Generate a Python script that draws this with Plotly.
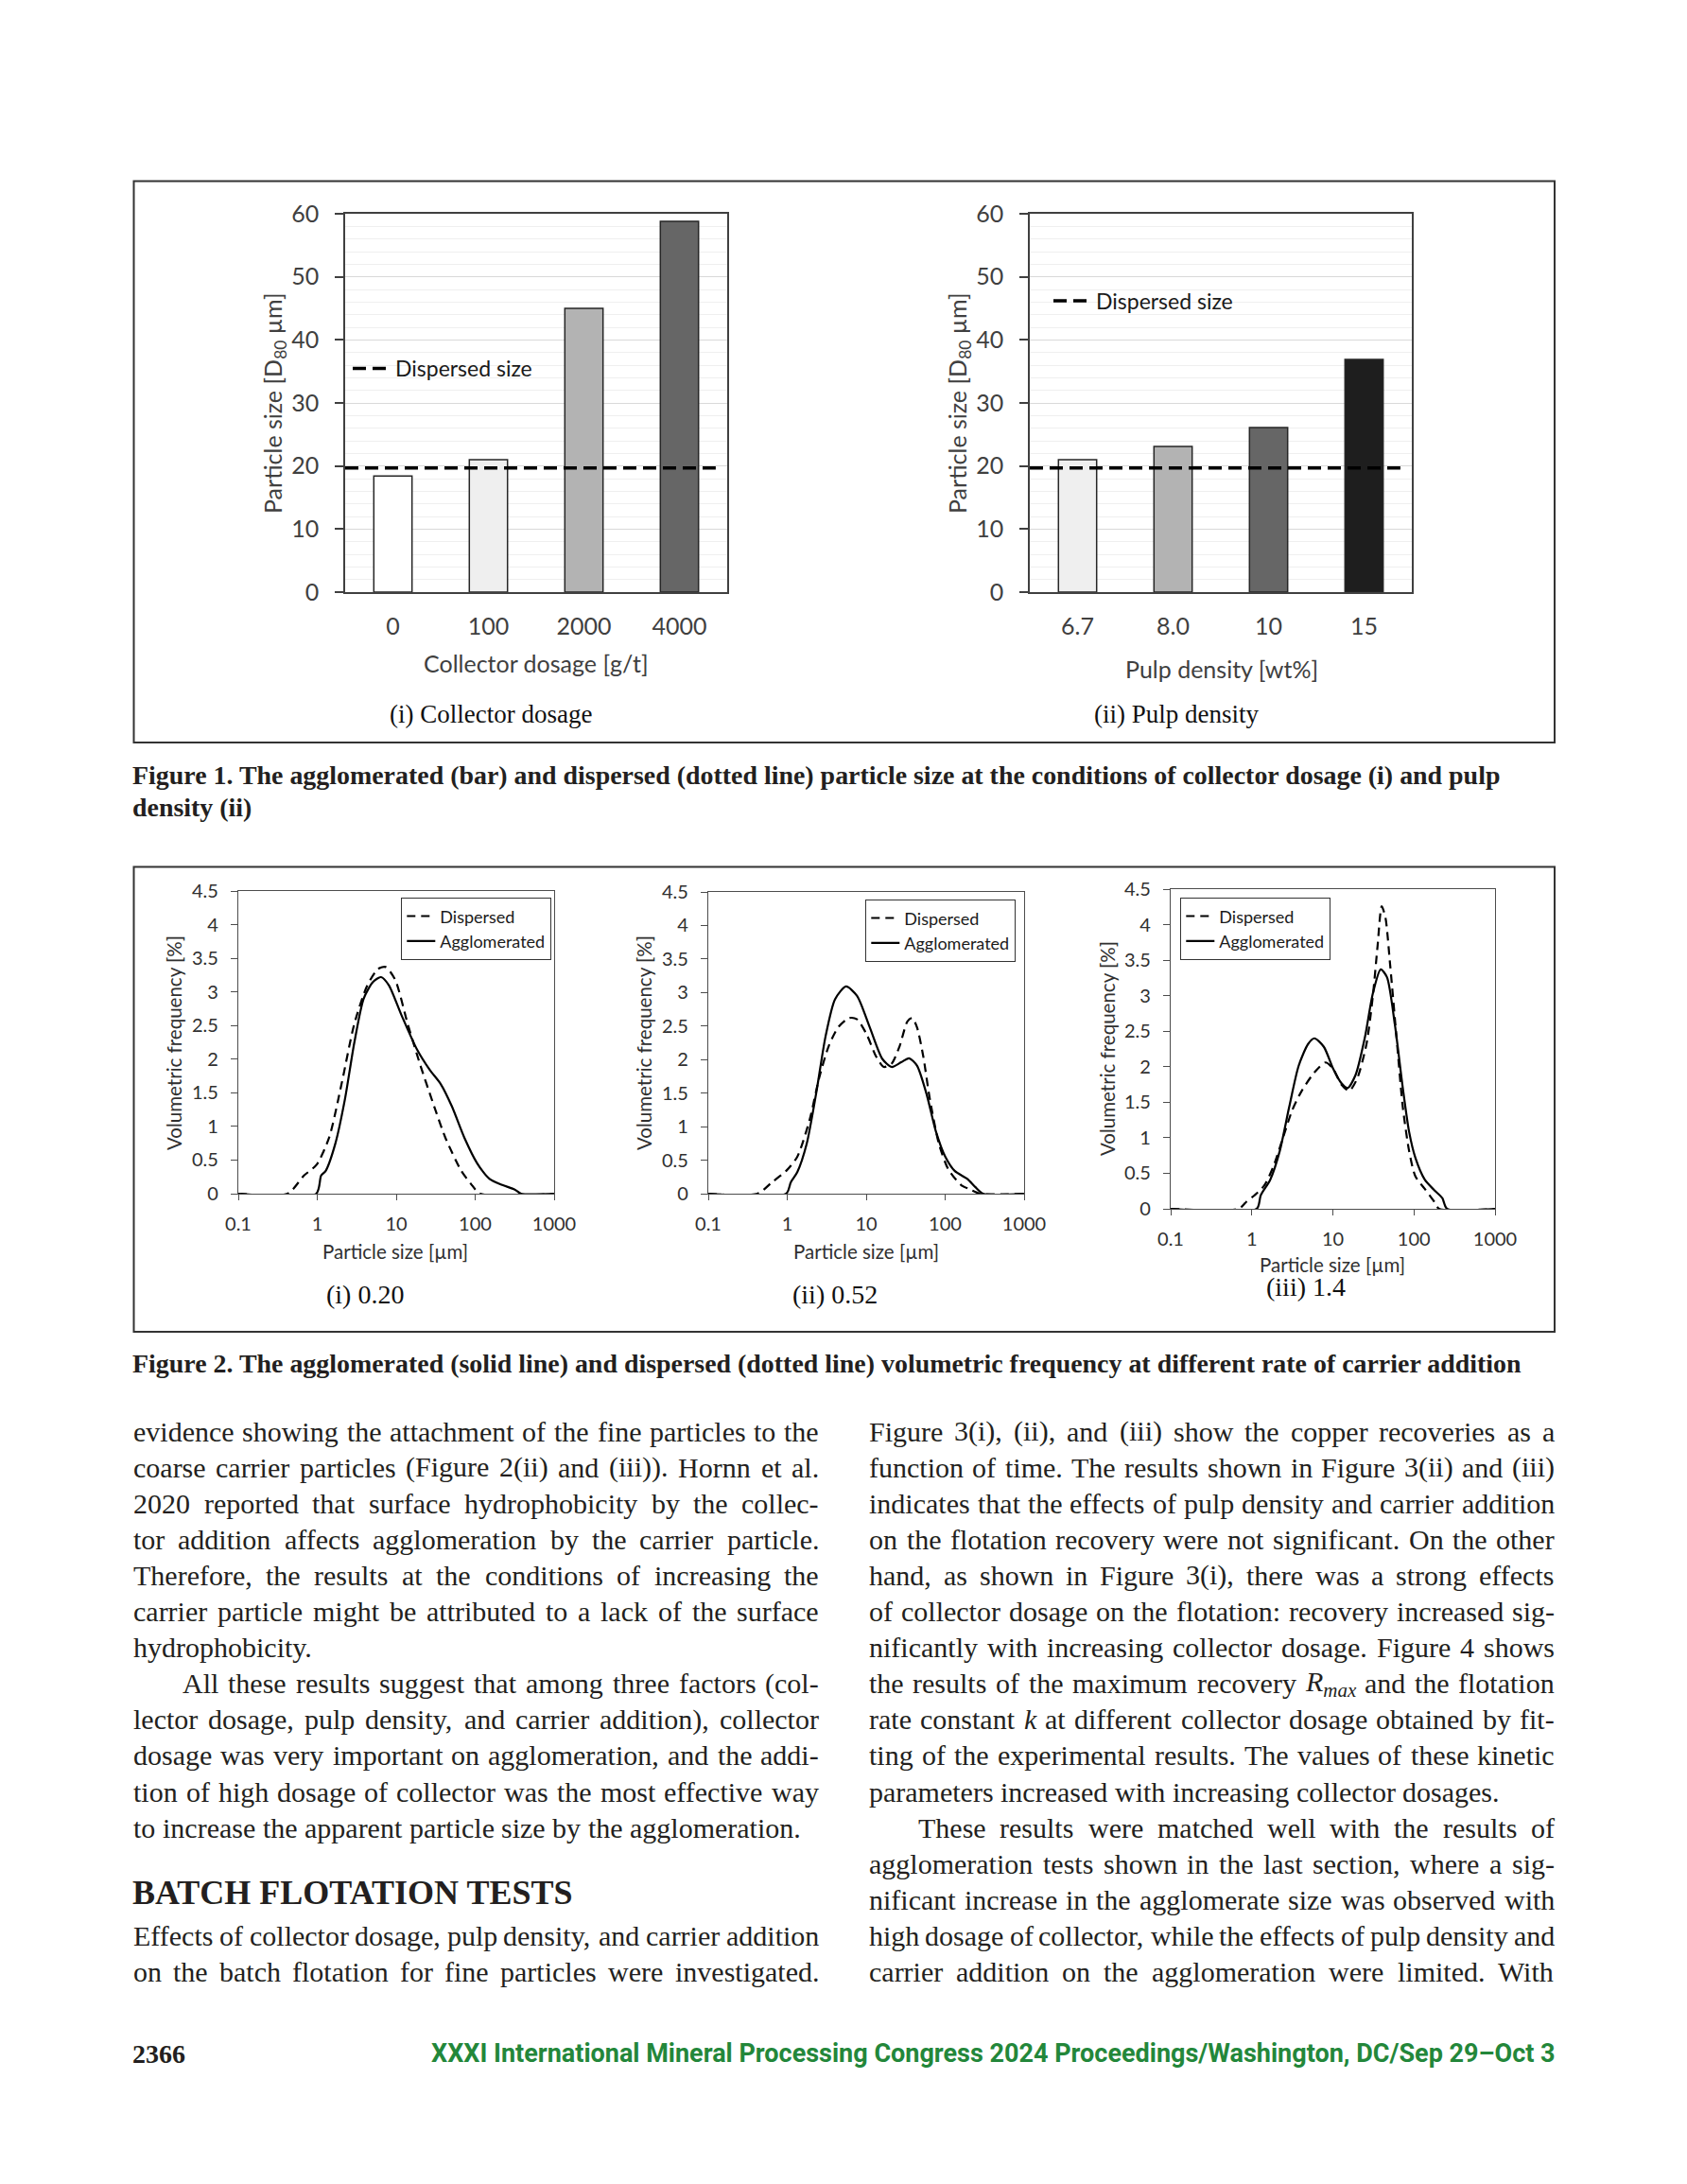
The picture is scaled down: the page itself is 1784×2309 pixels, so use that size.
import plotly.graph_objects as go

W, H = 1784, 2309
OX, OY = 8, 8  # page body margin of the html page

# ---------------- data ----------------
COLLECTOR_DOSAGE = ['0', '100', '2000', '4000']
D80_COLLECTOR = [18.4, 21.0, 45.0, 58.8]
PULP_DENSITY = ['6.7', '8.0', '10', '15']
D80_PULP = [21.0, 23.1, 26.1, 36.9]
DISPERSED_D80 = 19.7
BAR_COLORS_COLLECTOR = ['#FFFFFF', '#EFEFEF', '#B3B3B3', '#666666']
BAR_COLORS_PULP = ['#EFEFEF', '#B3B3B3', '#666666', '#1E1E1E']

PSD_TICKVALS = [0.1, 1, 10, 100, 1000]
PSD_TICKTEXT = ['0.1', '1', '10', '100', '1000']

# (i) 0.20
PSD_I_DISP_X = [0.1, 0.42, 0.68, 0.98, 1.41, 2.03, 2.94, 4.24, 5.85, 7.35, 9.7, 14.0, 20.2, 29.2, 42.0, 66.7, 87.8, 116, 1000]
PSD_I_DISP_Y = [0, 0, 0.27, 0.43, 0.83, 1.63, 2.52, 3.08, 3.34, 3.37, 3.18, 2.52, 1.91, 1.35, 0.83, 0.34, 0.15, 0, 0]
PSD_I_AGG_X = [0.1, 0.97, 1.12, 1.28, 1.69, 2.23, 2.94, 3.87, 5.1, 6.41, 8.06, 11.6, 18.4, 26.6, 36.6, 50.6, 73.1, 105, 152, 220, 318, 381, 1000]
PSD_I_AGG_Y = [0, 0, 0.27, 0.34, 0.74, 1.39, 2.24, 2.9, 3.15, 3.22, 3.1, 2.66, 2.14, 1.84, 1.63, 1.3, 0.83, 0.46, 0.22, 0.13, 0.06, 0, 0]

# (ii) 0.52
PSD_II_DISP_X = [0.1, 0.42, 0.64, 0.97, 1.34, 1.93, 2.54, 3.35, 4.41, 6.08, 7.66, 10.1, 13.3, 16.7, 21.0, 26.5, 33.3, 38.3, 44.0, 52.8, 63.4, 83.5, 110, 159, 210, 276, 1000]
PSD_II_DISP_Y = [0, 0, 0.17, 0.34, 0.55, 1.11, 1.73, 2.2, 2.48, 2.62, 2.6, 2.38, 2.05, 1.89, 1.94, 2.2, 2.57, 2.62, 2.48, 2.05, 1.44, 0.74, 0.36, 0.13, 0.06, 0, 0]
PSD_II_AGG_X = [0.1, 0.97, 1.11, 1.34, 1.76, 2.32, 3.05, 4.03, 5.56, 7.66, 11.1, 16.0, 21.0, 27.7, 34.9, 44.0, 58.0, 76.3, 100.5, 132, 191, 240, 303, 1000]
PSD_II_AGG_Y = [0, 0, 0.17, 0.32, 0.74, 1.49, 2.34, 2.9, 3.09, 2.95, 2.48, 2.01, 1.89, 1.96, 2.02, 1.91, 1.49, 0.93, 0.55, 0.34, 0.22, 0.1, 0, 0]

# (iii) 1.4
PSD_III_DISP_X = [0.1, 0.69, 0.86, 1.08, 1.41, 1.84, 2.41, 3.16, 4.13, 5.92, 8.1, 10.1, 12.7, 15.9, 19.9, 26.0, 31.1, 35.6, 40.0, 44.5, 50.9, 61.0, 72.9, 87.3, 104, 136, 178, 204, 1000]
PSD_III_DISP_Y = [0, 0, 0.1, 0.19, 0.32, 0.59, 0.99, 1.39, 1.66, 1.92, 2.06, 1.97, 1.75, 1.66, 1.83, 2.32, 2.99, 3.7, 4.26, 4.1, 3.43, 2.41, 1.43, 0.81, 0.46, 0.28, 0.1, 0, 0]
PSD_III_AGG_X = [0.1, 1.15, 1.29, 1.69, 2.21, 2.89, 3.78, 4.95, 5.92, 7.74, 10.1, 12.7, 15.2, 19.0, 24.8, 31.1, 38.9, 46.5, 58.2, 72.9, 87.3, 104, 136, 179, 224, 256, 1000]
PSD_III_AGG_Y = [0, 0, 0.19, 0.41, 0.81, 1.43, 2.01, 2.32, 2.4, 2.28, 1.97, 1.77, 1.7, 1.88, 2.41, 3.03, 3.37, 3.26, 2.59, 1.7, 1.08, 0.72, 0.41, 0.26, 0.15, 0, 0]

LEFT_LINES = [
    (0, "evidence showing the attachment of the fine particles to the", 0, True),
    (1, "coarse carrier particles (Figure 2(ii) and (iii)). Hornn et al.", 0, True),
    (2, "2020 reported that surface hydrophobicity by the collec-", 0, True),
    (3, "tor addition affects agglomeration by the carrier particle.", 0, True),
    (4, "Therefore, the results at the conditions of increasing the", 0, True),
    (5, "carrier particle might be attributed to a lack of the surface", 0, True),
    (6, "hydrophobicity.", 0, False),
    (7, "All these results suggest that among three factors (col-", 1, True),
    (8, "lector dosage, pulp density, and carrier addition), collector", 0, True),
    (9, "dosage was very important on agglomeration, and the addi-", 0, True),
    (10, "tion of high dosage of collector was the most effective way", 0, True),
    (11, "to increase the apparent particle size by the agglomeration.", 0, False),
    (14, "Effects of collector dosage, pulp density, and carrier addition", 0, True),
    (15, "on the batch flotation for fine particles were investigated.", 0, True),
]
RIGHT_LINES = [
    (0, "Figure 3(i), (ii), and (iii) show the copper recoveries as a", 0, True),
    (1, "function of time. The results shown in Figure 3(ii) and (iii)", 0, True),
    (2, "indicates that the effects of pulp density and carrier addition", 0, True),
    (3, "on the flotation recovery were not significant. On the other", 0, True),
    (4, "hand, as shown in Figure 3(i), there was a strong effects", 0, True),
    (5, "of collector dosage on the flotation: recovery increased sig-", 0, True),
    (6, "nificantly with increasing collector dosage. Figure 4 shows", 0, True),
    (7, "the results of the maximum recovery {Rmax} and the flotation", 0, True),
    (8, "rate constant {k} at different collector dosage obtained by fit-", 0, True),
    (9, "ting of the experimental results. The values of these kinetic", 0, True),
    (10, "parameters increased with increasing collector dosages.", 0, False),
    (11, "These results were matched well with the results of", 1, True),
    (12, "agglomeration tests shown in the last section, where a sig-", 0, True),
    (13, "nificant increase in the agglomerate size was observed with", 0, True),
    (14, "high dosage of collector, while the effects of pulp density and", 0, True),
    (15, "carrier addition on the agglomeration were limited. With", 0, True),
]
HEADING = "BATCH FLOTATION TESTS"
FIG1_CAPTION = ["Figure 1. The agglomerated (bar) and dispersed (dotted line) particle size at the conditions of collector dosage (i) and pulp",
                "density (ii)"]
FIG2_CAPTION = "Figure 2. The agglomerated (solid line) and dispersed (dotted line) volumetric frequency at different rate of carrier addition"
PAGE_NUMBER = "2366"
FOOTER = "XXXI International Mineral Processing Congress 2024 Proceedings/Washington, DC/Sep 29–Oct 3"

# ---------------- helpers ----------------
SANS = 'Lato, Carlito, "Open Sans", sans-serif'
SERIF = '"Liberation Serif", "Times New Roman", serif'
INK = '#231F20'


def fx(p):
    return (p - OX) / W


def fy(p):
    return 1 - (p - OY) / H


REG = dict(zip('abcdefghijklmnopqrstuvwxyz',
               [444, 500, 444, 500, 444, 333, 500, 500, 278, 278, 500, 278, 778, 500, 500, 500, 500, 333, 389, 278, 500, 500, 722, 500, 500, 444]))
REG.update(dict(zip('ABCDEFGHIJKLMNOPQRSTUVWXYZ',
                    [722, 667, 667, 722, 611, 556, 722, 722, 333, 389, 722, 611, 889, 722, 722, 556, 722, 667, 556, 611, 722, 722, 944, 722, 722, 611])))
REG.update({c: 500 for c in '0123456789'})
REG.update({' ': 250, '.': 250, ',': 250, '(': 333, ')': 333, '-': 333, ':': 278, ';': 278, '%': 833, '/': 278})

BOLD = dict(zip('abcdefghijklmnopqrstuvwxyz',
                [500, 556, 444, 556, 444, 333, 500, 556, 278, 333, 556, 278, 833, 556, 500, 556, 556, 444, 389, 333, 556, 500, 722, 500, 500, 444]))
BOLD.update(dict(zip('ABCDEFGHIJKLMNOPQRSTUVWXYZ',
                     [722, 667, 722, 722, 667, 611, 778, 778, 389, 500, 778, 667, 944, 722, 778, 611, 778, 722, 556, 667, 722, 722, 1000, 722, 722, 667])))
BOLD.update({c: 500 for c in '0123456789'})
BOLD.update({' ': 250, '.': 250, ',': 250, '(': 333, ')': 333, '-': 333, ':': 333})


def em(s, table=REG):
    return sum(table.get(c, 500) for c in s) / 1000.0


SPECIAL = {'{Rmax}': ('<i>R<sub>max</sub></i>', 0.611 + 0.7 * (0.722 + 0.5 + 0.444)),
           '{k}': ('<i>k</i>', 0.444)}

ANN = []


def add_text(text, x, y, size, family, color=INK, xanchor='center', yanchor='middle', angle=0):
    ANN.append(dict(text=text, x=fx(x), y=fy(y), xref='paper', yref='paper', showarrow=False,
                    font=dict(family=family, size=size, color=color), xanchor=xanchor, yanchor=yanchor,
                    textangle=angle, borderpad=0, borderwidth=0))


# ---------------- figure ----------------
fig = go.Figure()
layout = {}

# Figure 1 panels
BAR_PANELS = [
    (COLLECTOR_DOSAGE, D80_COLLECTOR, BAR_COLORS_COLLECTOR, (365, 769), 'x', 'y', 'legend'),
    (PULP_DENSITY, D80_PULP, BAR_COLORS_PULP, (1089, 1493), 'x2', 'y2', 'legend2'),
]
for cats, vals, cols, (xl, xr), xa, ya, lg in BAR_PANELS:
    n = len(cats)
    fig.add_trace(go.Bar(x=list(range(n)), y=vals, width=0.4,
                         marker=dict(color=cols, line=dict(color='#262626', width=1.5)),
                         xaxis=xa, yaxis=ya, showlegend=False))
    fig.add_trace(go.Scatter(x=[-0.5, n - 0.62], y=[DISPERSED_D80, DISPERSED_D80], mode='lines',
                             line=dict(color='black', width=3.5, dash='14px,7px'),
                             name='Dispersed size', xaxis=xa, yaxis=ya, legend=lg))
    xk = 'xaxis' + xa[1:]
    yk = 'yaxis' + ya[1:]
    layout[xk] = dict(domain=[fx(xl), fx(xr)], anchor=ya, range=[-0.5, n - 0.5],
                      tickvals=list(range(n)), ticktext=cats, ticks='',
                      showline=True, linecolor='#404040', linewidth=1.5, mirror=True,
                      showgrid=False, zeroline=False, ticklabelstandoff=13, automargin=False,
                      tickfont=dict(family=SANS, size=25, color='#404040'))
    layout[yk] = dict(domain=[fy(626), fy(226)], anchor=xa, range=[0, 60], dtick=10, tick0=0,
                      ticks='outside', ticklen=9, tickwidth=1.5, tickcolor='#404040',
                      showline=True, linecolor='#404040', linewidth=1.5, mirror=True,
                      showgrid=True, gridcolor='#D9D9D9', gridwidth=1,
                      minor=dict(dtick=2, tick0=0, showgrid=True, gridcolor='#EFEFEF', gridwidth=1, ticks=''),
                      zeroline=False, ticklabelstandoff=12, automargin=False,
                      tickfont=dict(family=SANS, size=25, color='#404040'))

# Figure 2 panels
PSD_PANELS = [
    (PSD_I_DISP_X, PSD_I_DISP_Y, PSD_I_AGG_X, PSD_I_AGG_Y, (252, 586), (942, 1262), 'x3', 'y3', 'legend3'),
    (PSD_II_DISP_X, PSD_II_DISP_Y, PSD_II_AGG_X, PSD_II_AGG_Y, (749, 1083), (943, 1262), 'x4', 'y4', 'legend4'),
    (PSD_III_DISP_X, PSD_III_DISP_Y, PSD_III_AGG_X, PSD_III_AGG_Y, (1238, 1581), (940, 1278), 'x5', 'y5', 'legend5'),
]
for dx, dy, ax, ay, (xl, xr), (yt, yb), xa, ya, lg in PSD_PANELS:
    fig.add_trace(go.Scatter(x=dx, y=dy, mode='lines', name='Dispersed',
                             line=dict(color='black', width=2.2, dash='9px,6px', shape='spline', smoothing=0.7),
                             xaxis=xa, yaxis=ya, legend=lg))
    fig.add_trace(go.Scatter(x=ax, y=ay, mode='lines', name='Agglomerated',
                             line=dict(color='black', width=2.2, shape='spline', smoothing=0.7),
                             xaxis=xa, yaxis=ya, legend=lg))
    xk = 'xaxis' + xa[1:]
    yk = 'yaxis' + ya[1:]
    layout[xk] = dict(domain=[fx(xl), fx(xr)], anchor=ya, type='log', range=[-1, 3],
                      tickvals=PSD_TICKVALS, ticktext=PSD_TICKTEXT, ticks='outside', ticklen=6,
                      tickcolor='#4D4D4D', tickwidth=1.2,
                      showline=True, linecolor='#4D4D4D', linewidth=1.3, mirror=True,
                      showgrid=False, zeroline=False, ticklabelstandoff=8, automargin=False,
                      tickfont=dict(family=SANS, size=20, color='#303030'))
    layout[yk] = dict(domain=[fy(yb), fy(yt)], anchor=xa, range=[0, 4.5], dtick=0.5, tick0=0,
                      ticks='outside', ticklen=7, tickcolor='#4D4D4D', tickwidth=1.2,
                      showline=True, linecolor='#4D4D4D', linewidth=1.3, mirror=True,
                      showgrid=False, zeroline=False, ticklabelstandoff=9, automargin=False,
                      tickfont=dict(family=SANS, size=20, color='#303030'))

# legends
layout['legend'] = dict(x=fx(368), y=fy(389.5), xanchor='left', yanchor='middle', bgcolor='rgba(0,0,0,0)',
                        borderwidth=0, itemwidth=40, font=dict(family=SANS, size=23, color='#1A1A1A'))
layout['legend2'] = dict(x=fx(1109), y=fy(318), xanchor='left', yanchor='middle', bgcolor='rgba(0,0,0,0)',
                         borderwidth=0, itemwidth=40, font=dict(family=SANS, size=23, color='#1A1A1A'))
for name, lx, ly in [('legend3', 424, 949), ('legend4', 915, 951), ('legend5', 1248, 949)]:
    layout[name] = dict(x=fx(lx), y=fy(ly), xanchor='left', yanchor='top', bgcolor='white',
                        bordercolor='#333333', borderwidth=1.3, font=dict(family=SANS, size=18, color='#1A1A1A'))

# outer boxes
shapes = [
    dict(type='rect', xref='paper', yref='paper', x0=fx(141.5), x1=fx(1644), y0=fy(785), y1=fy(191.5),
         line=dict(color='#333333', width=2)),
    dict(type='rect', xref='paper', yref='paper', x0=fx(141.5), x1=fx(1644), y0=fy(1408), y1=fy(916.5),
         line=dict(color='#333333', width=2)),
]

# Figure 1 texts
add_text('Particle size [D<sub>80</sub> µm]', 290, 426, 25, SANS, '#404040', angle=-90)
add_text('Particle size [D<sub>80</sub> µm]', 1014, 426, 25, SANS, '#404040', angle=-90)
add_text('Collector dosage [g/t]', 567, 701, 25, SANS, '#404040')
add_text('Pulp density [wt%]', 1292, 707, 25, SANS, '#404040')
add_text('(i) Collector dosage', 519, 755, 27, SERIF, '#111111')
add_text('(ii) Pulp density', 1244, 755, 27, SERIF, '#111111')

# Figure 2 texts
for xt, yt in [(184, 1103), (681, 1103), (1171, 1109)]:
    add_text('Volumetric frequency [%]', xt, yt, 20.5, SANS, '#303030', angle=-90)
for xt, yt in [(418, 1323), (916, 1323), (1409, 1337)]:
    add_text('Particle size [µm]', xt, yt, 20.5, SANS, '#303030')
add_text('(i) 0.20', 386, 1368, 28, SERIF, '#111111')
add_text('(ii) 0.52', 883, 1368, 28, SERIF, '#111111')
add_text('(iii) 1.4', 1381, 1361, 28, SERIF, '#111111')

# captions
cap_size = 1449 / em(FIG1_CAPTION[0], BOLD)
add_text('<b>' + FIG1_CAPTION[0] + '</b>', 140, 819, cap_size, SERIF, INK, xanchor='left')
add_text('<b>' + FIG1_CAPTION[1] + '</b>', 140, 854, cap_size, SERIF, INK, xanchor='left')
add_text('<b>' + FIG2_CAPTION + '</b>', 140, 1441, cap_size, SERIF, INK, xanchor='left')

# body text (justified by placing words)
FS = 30
COL_W = 725
INDENT = 52
LINE_Y0 = 1513
LINE_H = 38.1


def place_line(text, x0, y, indent, justify):
    toks = []
    for w in text.split(' '):
        toks.append(SPECIAL.get(w, (w, em(w))))
    total = sum(t[1] for t in toks) * FS
    avail = COL_W - indent * INDENT
    if justify and len(toks) > 1:
        gap = (avail - total) / (len(toks) - 1)
    else:
        gap = 0.25 * FS
    x = x0 + indent * INDENT
    for markup, w in toks:
        add_text(markup, x, y, FS, SERIF, INK, xanchor='left')
        x += w * FS + gap


for slot, text, ind, just in LEFT_LINES:
    place_line(text, 141, LINE_Y0 + slot * LINE_H, ind, just)
for slot, text, ind, just in RIGHT_LINES:
    place_line(text, 919, LINE_Y0 + slot * LINE_H, ind, just)

add_text('<b>' + HEADING + '</b>', 140, 2001, 36, SERIF, INK, xanchor='left')

# footer
add_text('<b>' + PAGE_NUMBER + '</b>', 140, 2171, 28, SERIF, INK, xanchor='left')
add_text('<b>' + FOOTER + '</b>', 1645, 2171, 27, 'Roboto, "Liberation Sans", sans-serif', '#23873A', xanchor='right')

layout.update(dict(width=W, height=H, autosize=False,
                   margin=dict(l=0, r=0, t=0, b=0, pad=0, autoexpand=False),
                   paper_bgcolor='white', plot_bgcolor='white', barmode='overlay',
                   annotations=ANN, shapes=shapes, hovermode=False,
                   font=dict(family=SANS, color=INK)))
fig.update_layout(**layout)
fig.write_html("out.html", config={'displayModeBar': False})
